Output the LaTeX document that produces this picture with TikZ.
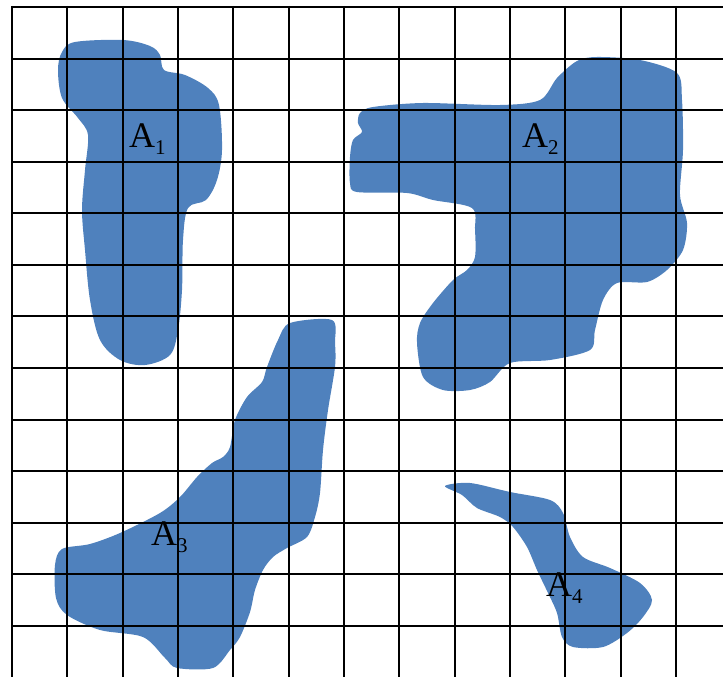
\documentclass[tikz,border=0pt]{standalone}
\usepackage{fontspec}
\setmainfont{Liberation Serif}
\definecolor{blobblue}{RGB}{79,129,189}
\tikzset{
  blob/.style={fill=blobblue,draw=none},
  gridline/.style={line width=2pt,black},
  lbl/.style={inner sep=0pt,anchor=base west,font=\fontsize{36}{36}\selectfont}
}
\newcommand{\sublbl}[1]{\raisebox{-7pt}{\fontsize{21}{21}\selectfont #1}}
\begin{document}
\begin{tikzpicture}[x=1pt,y=-1pt]
\useasboundingbox (0,0) rectangle (723,677);
% A1
\fill[blob] plot[smooth cycle,tension=0.55] coordinates {
 (62,52) (75,42) (123,40) (150,46) (160,55) (164,70) (185,75) (208,88) (219,105)
 (222,150) (217,180) (206,200) (188,208) (183,240) (182,290) (178,330) (170,355)
 (145,365) (120,360) (100,340) (90,300) (85,250) (82,210) (85,170) (88,135)
 (78,118) (62,98) (58,70)};
% A2
\fill[blob] plot[smooth cycle,tension=0.5] coordinates {
 (360,113) (373,107) (423,103) (500,105) (540,100) (557,78) (577,61) (597,57)
 (640,60) (677,73) (682,100) (683,150) (680,195) (687,223) (683,250) (667,270)
 (647,282) (617,283) (603,300) (595,330) (590,350) (550,360) (510,363)
 (490,382) (470,390) (443,390) (423,377) (417,343) (420,323) (433,303)
 (453,280) (467,270) (475,257) (475,230) (472,208) (433,200) (407,193)
 (357,192) (350,183) (350,157) (353,140) (362,132) (358,123)};
% A3
\fill[blob] plot[smooth cycle,tension=0.5] coordinates {
 (290,323) (332,320) (335,343) (335,367) (328,410) (323,450) (320,493)
 (315,517) (307,537) (287,548) (273,557) (263,570) (255,590) (250,612)
 (240,637) (230,650) (213,668) (177,668) (165,658) (143,637) (100,630)
 (67,615) (56,598) (55,565) (62,549) (90,544) (120,533) (160,513) (180,497)
 (197,477) (212,463) (223,457) (230,447) (235,420) (247,397) (262,382)
 (267,367) (278,340)};
% A4
\fill[blob] plot[smooth cycle,tension=0.5] coordinates {
 (445,486) (470,483) (510,492) (550,500) (563,513) (570,537) (583,557)
 (610,568) (640,583) (652,600) (643,617) (627,633) (603,647) (573,647)
 (562,637) (557,613) (548,593) (537,570) (527,547) (513,527) (500,517)
 (477,508) (462,495)};
% grid
\foreach \i in {0,...,12} {
  \draw[gridline] ({12+55.333*\i},6) -- ({12+55.333*\i},677);
}
\foreach \j in {0,...,12} {
  \draw[gridline] (11,{7+51.58*\j}) -- (723,{7+51.58*\j});
}
% labels
\node[lbl] (a1) at (129,147) {A\sublbl{1}};
\node[lbl] (a2) at (522,147) {A\sublbl{2}};
\node[lbl] (a3) at (151,545) {A\sublbl{3}};
\node[lbl] (a4) at (546,596) {A\sublbl{4}};
\end{tikzpicture}
\end{document}
